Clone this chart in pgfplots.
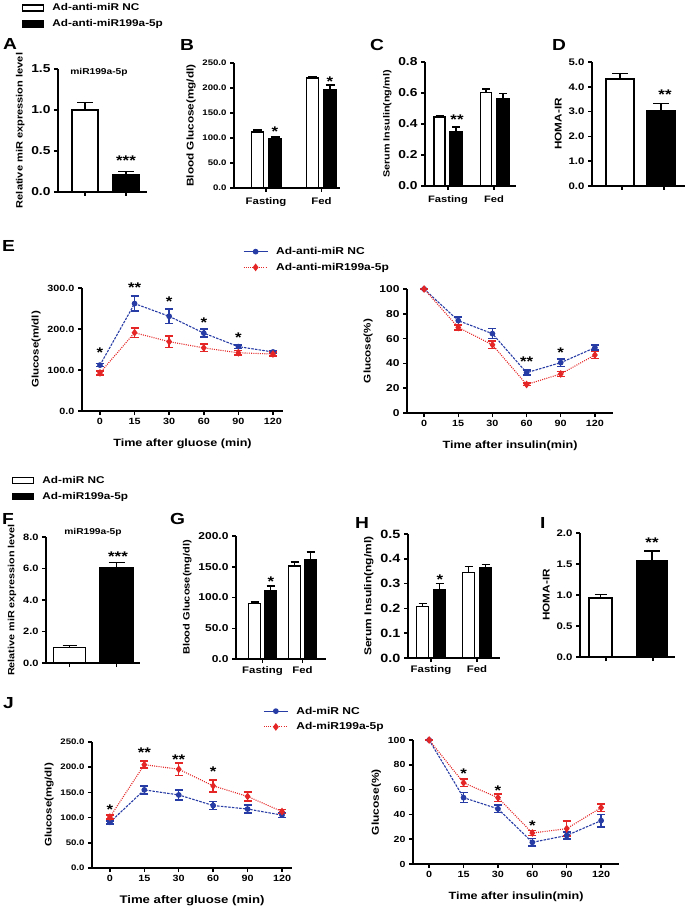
\documentclass[border=0pt]{standalone}
\usepackage{pgfplots}
\pgfplotsset{compat=1.18}
\usepackage{fontspec}
\setmainfont{Liberation Sans}[FakeStretch=1.2]
\definecolor{nblue}{RGB}{40,60,165}
\definecolor{nred}{RGB}{228,38,38}
\newcommand{\fs}[1]{\fontsize{#1}{#1}\selectfont\bfseries}
\pgfplotsset{
  prism/.style={
    scale only axis, axis lines=left,
    axis line style={-, line width=1.5pt},
    enlargelimits=false, clip=false,
    tick align=outside, major tick length=4pt,
    tick style={black, line width=1.5pt},
    /pgf/number format/assume math mode=true,
    yticklabel style={/pgf/number format/fixed, /pgf/number format/fixed zerofill, /pgf/number format/precision=1},
    ylabel style={font=\fs{9.5}},
    xlabel style={font=\fs{10.5}, yshift=-7pt},
  },
  tl/.style={ticklabel style={font=\fs{#1}}},
  yl/.style={ylabel style={font=\fs{#1}}},
  wbar/.style 2 args={ybar, bar shift=0pt, bar width=#1, fill=white, draw=black, line width=1.4pt, forget plot,
    error bars/y dir=plus, error bars/y explicit,
    error bars/error bar style={line width=1.4pt, black, solid},
    error bars/error mark options={rotate=90, line width=1.4pt, black, mark size=#2}},
  bbar/.style 2 args={ybar, bar shift=0pt, bar width=#1, fill=black, draw=black, line width=1.4pt, forget plot,
    error bars/y dir=plus, error bars/y explicit,
    error bars/error bar style={line width=1.4pt, black, solid},
    error bars/error mark options={rotate=90, line width=1.4pt, black, mark size=#2}},
  ncl/.style={nblue, line width=1.1pt, dash pattern=on 2.5pt off 1.2pt, mark=*, mark size=2.3pt,
    mark options={solid, fill=nblue}, forget plot,
    error bars/y dir=both, error bars/y explicit,
    error bars/error bar style={solid, line width=1.5pt, nblue},
    error bars/error mark options={rotate=90, solid, line width=1.5pt, nblue, mark size=4pt}},
  oel/.style={nred, line width=1.1pt, dash pattern=on 1pt off 1.2pt, mark=diamond*, mark size=3pt,
    mark options={solid, fill=nred}, forget plot,
    error bars/y dir=both, error bars/y explicit,
    error bars/error bar style={solid, line width=1.5pt, nred},
    error bars/error mark options={rotate=90, solid, line width=1.5pt, nred, mark size=4pt}},
  barleg/.style={legend style={draw=none, fill=none, font=\fs{9.8}, inner sep=0pt, row sep=3.5pt, anchor=west,
      /tikz/every odd column/.append style={column sep=6pt}},
    legend cell align=left,
    legend image code/.code={\draw[##1] (0pt,-3pt) rectangle (21pt,3pt);}},
  lineleg/.style={legend style={draw=none, fill=none, font=\fs{10}, inner sep=0pt, row sep=3pt, anchor=west,
      /tikz/every odd column/.append style={column sep=6pt}},
    legend cell align=left,
    legend image code/.code={\draw[mark repeat=2,mark phase=2,##1] plot coordinates {(0pt,0pt) (12pt,0pt) (24pt,0pt)};}},
  timex/.style={xtick={0,1,2,3,4,5}, xticklabels={0,15,30,60,90,120}},
  intlab/.style={yticklabel style={/pgf/number format/precision=0}},
}
\begin{document}
\begin{tikzpicture}
% panel letters
\foreach \l/\x/\y in {A/3/38, B/180/39, C/370/39, D/552/39, E/2/240, F/2/513, G/170/513, H/355/517, I/540/517, J/3/697}
  \node[anchor=north west, inner sep=0pt, font=\fs{16}] at (\x pt,-\y pt) {\l};

% ---------- A ----------
\begin{axis}[prism, at={(58pt,-192pt)}, anchor=south west, width=89pt, height=123pt,
  xmin=58, xmax=147, ymin=0, ymax=1.5, ytick={0,0.5,1,1.5}, xtick={85,126}, xticklabels={,},
  tl=11.5, ylabel={Relative miR expression level}, yl=9.2,
  barleg, legend style={at={(axis cs:22,2.146)}}]
\addlegendimage{fill=white, draw=black, line width=1.3pt}
\addlegendentry{Ad-anti-miR NC}
\addlegendimage{fill=black, draw=black, line width=1.3pt}
\addlegendentry{Ad-anti-miR199a-5p}
\addplot[wbar={26pt}{8pt}] coordinates {(85,1.0) +- (0,0.09)};
\addplot[bbar={26pt}{8pt}] coordinates {(126,0.21) +- (0,0.04)};
\node[font=\fs{8.5}] at (axis cs:99,1.46) {miR199a-5p};
\node[font=\fs{14}] at (axis cs:126,0.38) {***};
\end{axis}

% ---------- B ----------
\begin{axis}[prism, at={(234pt,-188pt)}, anchor=south west, width=106pt, height=125pt,
  xmin=234, xmax=340, ymin=0, ymax=250, ytick={0,50,100,150,200,250},
  xtick={266,321.5}, xticklabels={Fasting,Fed}, tl=8, xticklabel style={font=\fs{9.5}, yshift=-2pt},
  ylabel={Blood Glucose(mg/dl)}, yl=9.8]
\addplot[wbar={12pt}{4.5pt}] coordinates {(257.5,112) +- (0,4) (312.5,220) +- (0,2)};
\addplot[bbar={13pt}{4.5pt}] coordinates {(275,99) +- (0,3) (330,197) +- (0,9)};
\node[font=\fs{14}] at (axis cs:275,113) {*};
\node[font=\fs{14}] at (axis cs:330,213) {*};
\end{axis}

% ---------- C ----------
\begin{axis}[prism, at={(425pt,-186pt)}, anchor=south west, width=91pt, height=124pt,
  xmin=425, xmax=516, ymin=0, ymax=0.8, ytick={0,0.2,0.4,0.6,0.8},
  xtick={448,494}, xticklabels={Fasting,Fed}, tl=11.5, xticklabel style={font=\fs{9.3}, yshift=-2pt},
  ylabel={Serum Insulin(ng/ml)}, yl=9]
\addplot[wbar={11pt}{4pt}] coordinates {(439.5,0.445) +- (0,0.01) (486,0.605) +- (0,0.02)};
\addplot[bbar={12pt}{4pt}] coordinates {(456,0.35) +- (0,0.03) (503,0.565) +- (0,0.03)};
\node[font=\fs{14}] at (axis cs:457,0.43) {**};
\end{axis}

% ---------- D ----------
\begin{axis}[prism, at={(592pt,-186pt)}, anchor=south west, width=93pt, height=124pt,
  xmin=592, xmax=685, ymin=0, ymax=5, ytick={0,1,2,3,4,5},
  xtick={622,664}, xticklabels={,}, tl=9.5,
  ylabel={HOMA-IR}, yl=9.8]
\addplot[wbar={28pt}{8pt}] coordinates {(620,4.32) +- (0,0.22)};
\addplot[bbar={29pt}{8pt}] coordinates {(661,3.03) +- (0,0.3)};
\node[font=\fs{14}] at (axis cs:665,3.7) {**};
\end{axis}

% ---------- E left ----------
\begin{axis}[prism, at={(82pt,-411pt)}, anchor=south west, width=201pt, height=123pt,
  xmin=-0.52, xmax=5.29, ymin=0, ymax=300, ytick={0,100,200,300}, timex, tl=9,
  ylabel={Glucose(m/dl)}, yl=9.6, xlabel={Time after gluose (min)},
  lineleg, legend style={at={(axis cs:4.13,369.5)}}]
\addlegendimage{nblue, solid, line width=1.1pt, mark=*, mark size=2.3pt}
\addlegendentry{Ad-anti-miR NC}
\addlegendimage{nred, dash pattern=on 1pt off 1.2pt, line width=1.1pt, mark=diamond*, mark size=3pt, mark options={solid}}
\addlegendentry{Ad-anti-miR199a-5p}
\addplot[ncl] coordinates {(0,112) +- (0,4) (1,262) +- (0,18) (2,231) +- (0,18) (3,190) +- (0,10) (4,157) +- (0,4) (5,144) +- (0,4)};
\addplot[oel] coordinates {(0,93) +- (0,5) (1,191) +- (0,12) (2,169) +- (0,14) (3,154) +- (0,9) (4,142) +- (0,5) (5,139) +- (0,5)};
\node[font=\fs{14}] at (axis cs:0,142) {*};
\node[font=\fs{14}] at (axis cs:1,300) {**};
\node[font=\fs{14}] at (axis cs:2,266) {*};
\node[font=\fs{14}] at (axis cs:3,215) {*};
\node[font=\fs{14}] at (axis cs:4,178) {*};
\end{axis}

% ---------- E right ----------
\begin{axis}[prism, at={(407pt,-413pt)}, anchor=south west, width=206pt, height=124pt,
  xmin=-0.50, xmax=5.53, ymin=0, ymax=100, ytick={0,20,40,60,80,100}, timex, tl=9,
  intlab, yticklabel style={font=\fs{10}},
  ylabel={Glucose(\%)}, yl=9.7, xlabel={Time after insulin(min)}]
\addplot[ncl] coordinates {(0,100) +- (0,0) (1,74.5) +- (0,3) (2,64) +- (0,4) (3,32.5) +- (0,2) (4,40.6) +- (0,3) (5,52.7) +- (0,2)};
\addplot[oel] coordinates {(0,100) +- (0,0) (1,69) +- (0,2) (2,55) +- (0,3) (3,23) +- (0,1) (4,31.5) +- (0,2) (5,46.8) +- (0,3)};
\node[font=\fs{14}] at (axis cs:3,41) {**};
\node[font=\fs{14}] at (axis cs:4,49) {*};
\end{axis}

% ---------- F ----------
\begin{axis}[prism, at={(46pt,-663pt)}, anchor=south west, width=94pt, height=126pt,
  xmin=46, xmax=140, ymin=0, ymax=8, ytick={0,2,4,6,8}, xtick={69.5,116.5}, xticklabels={,},
  tl=9.2, ylabel={Relative miR expression level}, yl=9,
  barleg, legend style={at={(axis cs:12,11.08)}}]
\addlegendimage{fill=white, draw=black, line width=1.3pt}
\addlegendentry{Ad-miR NC}
\addlegendimage{fill=black, draw=black, line width=1.3pt}
\addlegendentry{Ad-miR199a-5p}
\addplot[wbar={32pt}{7pt}] coordinates {(69.5,0.98) +- (0,0.15)};
\addplot[bbar={33pt}{8pt}] coordinates {(116.5,6.05) +- (0,0.35)};
\node[font=\fs{8.5}] at (axis cs:93,8.3) {miR199a-5p};
\node[font=\fs{14}] at (axis cs:118,6.75) {***};
\end{axis}

% ---------- G ----------
\begin{axis}[prism, at={(236pt,-659pt)}, anchor=south west, width=90pt, height=123pt,
  xmin=236, xmax=326, ymin=0, ymax=200, ytick={0,50,100,150,200},
  xtick={262.5,302.5}, xticklabels={Fasting,Fed}, tl=10, xticklabel style={font=\fs{9.5}},
  ylabel={Blood Glucose(mg/dl)}, yl=9.2]
\addplot[wbar={12pt}{4pt}] coordinates {(254.5,90) +- (0,3) (294.5,151) +- (0,7)};
\addplot[bbar={12pt}{4pt}] coordinates {(270.5,111) +- (0,8) (310.5,161) +- (0,13)};
\node[font=\fs{14}] at (axis cs:271,126) {*};
\end{axis}

% ---------- H ----------
\begin{axis}[prism, at={(408pt,-658pt)}, anchor=south west, width=92pt, height=124pt,
  xmin=408, xmax=500, ymin=0, ymax=0.5, ytick={0,0.1,0.2,0.3,0.4,0.5},
  xtick={431,477}, xticklabels={Fasting,Fed}, tl=12, xticklabel style={font=\fs{9.5}},
  ylabel={Serum Insulin(ng/ml)}, yl=10]
\addplot[wbar={12pt}{4pt}] coordinates {(422.5,0.208) +- (0,0.012) (468.5,0.345) +- (0,0.025)};
\addplot[bbar={12pt}{4pt}] coordinates {(439.5,0.275) +- (0,0.025) (485.5,0.365) +- (0,0.012)};
\node[font=\fs{14}] at (axis cs:440,0.315) {*};
\end{axis}

% ---------- I ----------
\begin{axis}[prism, at={(580pt,-657pt)}, anchor=south west, width=95pt, height=124pt,
  xmin=580, xmax=675, ymin=0, ymax=2, ytick={0,0.5,1,1.5,2},
  xtick={606,653}, xticklabels={,}, tl=9.5,
  ylabel={HOMA-IR}, yl=9.8]
\addplot[wbar={23pt}{6pt}] coordinates {(600.5,0.95) +- (0,0.06)};
\addplot[bbar={30pt}{8pt}] coordinates {(652,1.56) +- (0,0.15)};
\node[font=\fs{14}] at (axis cs:652,1.84) {**};
\end{axis}

% ---------- J left ----------
\begin{axis}[prism, at={(92pt,-868pt)}, anchor=south west, width=200pt, height=126pt,
  xmin=-0.52, xmax=5.29, ymin=0, ymax=250, ytick={0,50,100,150,200,250}, timex, tl=9,
  yticklabel style={font=\fs{8}},
  ylabel={Glucose(mg/dl)}, yl=9.6, xlabel={Time after gluose (min)}, xlabel style={font=\fs{11}},
  lineleg, legend style={at={(axis cs:4.45,295.6)}}]
\addlegendimage{nblue, solid, line width=1.1pt, mark=*, mark size=2.3pt}
\addlegendentry{Ad-miR NC}
\addlegendimage{nred, dash pattern=on 1pt off 1.2pt, line width=1.1pt, mark=diamond*, mark size=3pt, mark options={solid}}
\addlegendentry{Ad-miR199a-5p}
\addplot[ncl] coordinates {(0,90.6) +- (0,3) (1,155) +- (0,8) (2,145) +- (0,10) (3,124) +- (0,8) (4,117) +- (0,8) (5,105) +- (0,5)};
\addplot[oel] coordinates {(0,101) +- (0,4) (1,205) +- (0,7) (2,196) +- (0,12) (3,163) +- (0,12) (4,142) +- (0,9) (5,112) +- (0,4)};
\node[font=\fs{14}] at (axis cs:0,115) {*};
\node[font=\fs{14}] at (axis cs:1,228) {**};
\node[font=\fs{14}] at (axis cs:2,214) {**};
\node[font=\fs{14}] at (axis cs:3,192) {*};
\end{axis}

% ---------- J right ----------
\begin{axis}[prism, at={(413pt,-864pt)}, anchor=south west, width=206pt, height=124pt,
  xmin=-0.47, xmax=5.52, ymin=0, ymax=100, ytick={0,20,40,60,80,100}, timex, tl=9,
  intlab, yticklabel style={font=\fs{8.8}},
  ylabel={Glucose(\%)}, yl=10, xlabel={Time after insulin(min)}]
\addplot[ncl] coordinates {(0,100) +- (0,0) (1,53.5) +- (0,4) (2,44.5) +- (0,3) (3,17.5) +- (0,3) (4,23) +- (0,3) (5,35) +- (0,5)};
\addplot[oel] coordinates {(0,100) +- (0,0) (1,65.5) +- (0,3) (2,53.5) +- (0,3) (3,25) +- (0,2) (4,28.5) +- (0,6) (5,45.5) +- (0,3)};
\node[font=\fs{14}] at (axis cs:1,73) {*};
\node[font=\fs{14}] at (axis cs:2,59) {*};
\node[font=\fs{14}] at (axis cs:3,31) {*};
\end{axis}

\pgfresetboundingbox
\path[use as bounding box] (0pt,0pt) rectangle (685pt,-909pt);
\end{tikzpicture}
\end{document}
